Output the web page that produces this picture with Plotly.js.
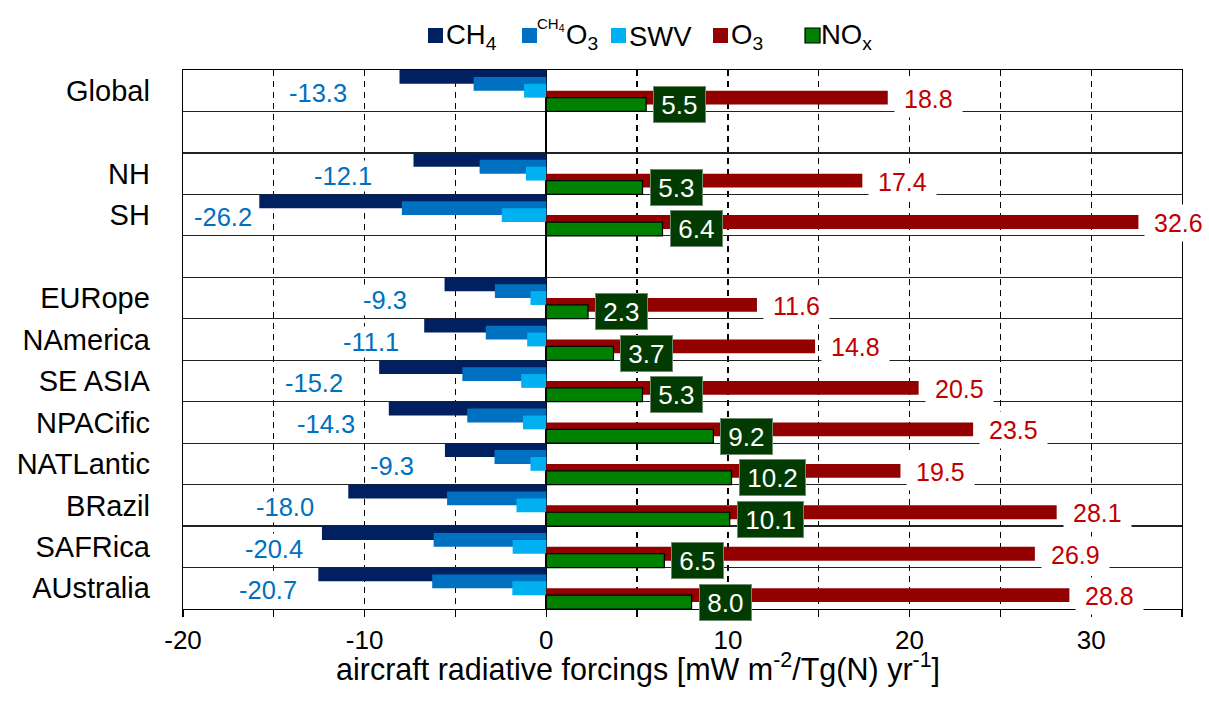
<!DOCTYPE html>
<html>
<head>
<meta charset="utf-8">
<script src="https://cdn.plot.ly/plotly-3.0.1.min.js"></script>
<style>
  html, body { margin: 0; padding: 0; background: #fff; }
  #chart { width: 1209px; height: 705px; }
</style>
</head>
<body>
<div id="chart"></div>
<script>
// Emission regions (blank entries leave a gap row)
const regions = ['Global', ' ', 'NH', 'SH', '  ', 'EURope', 'NAmerica', 'SE ASIA',
                 'NPACific', 'NATLantic', 'BRazil', 'SAFRica', 'AUstralia'];

// Radiative forcing per Tg(N)/yr, mW m-2
const ch4   = [-8.08, null, -7.31, -15.80, null, -5.60, -6.72, -9.20, -8.67, -5.58, -10.90, -12.35, -12.55];
const ch4o3 = [-4.00, null, -3.67,  -7.95, null, -2.83, -3.33, -4.62, -4.35, -2.85,  -5.46,  -6.20,  -6.28];
const swv   = [-1.22, null, -1.12,  -2.45, null, -0.87, -1.05, -1.38, -1.28, -0.87,  -1.64,  -1.85,  -1.87];
const o3    = [18.8, null, 17.4, 32.6, null, 11.6, 14.8, 20.5, 23.5, 19.5, 28.1, 26.9, 28.8];
const nox   = [5.5, null, 5.3, 6.4, null, 2.3, 3.7, 5.3, 9.2, 10.2, 10.1, 6.5, 8.0];

// Axis ticks
const xTickVals = [-20, -15, -10, -5, 0, 5, 10, 15, 20, 25, 30, 35];
const xTickText = ['-20', '', '-10', '', '0', '', '10', '', '20', '', '30', ''];

// Where the summed negative forcing is written on each row (x, data units)
const negLabelX = [-12.56, null, -11.2, -17.8, null, -8.9, -9.64, -12.8, -12.1, -8.5, -14.4, -15.0, -15.3];

const FONT = 'Liberation Sans, Arial, Helvetica, sans-serif';
const C_CH4 = '#002060', C_CH4O3 = '#0070C0', C_SWV = '#00B0F0', C_O3 = '#920000', C_NOX = '#008000';

// plot area in pixels
const M = { l: 183, r: 27, t: 70, b: 96 };
const W = 1209, H = 705;
const PW = W - M.l - M.r, PH = H - M.t - M.b;
const px2x = px => (px - M.l) / PW;
const px2y = py => (H - M.b - py) / PH;

const BAR_W = 1 / 3;
function barTrace(name, vals, color, offset, line) {
  return {
    type: 'bar', orientation: 'h', name: name,
    y: regions, x: vals,
    width: BAR_W, offset: offset,
    marker: { color: color, line: line || { width: 0 } },
    showlegend: false, hoverinfo: 'skip'
  };
}

const data = [
  barTrace('CH4', ch4, C_CH4, -0.5),
  barTrace('CH4O3', ch4o3, C_CH4O3, -1 / 3),
  barTrace('SWV', swv, C_SWV, -1 / 6),
  barTrace('O3', o3, C_O3, 0),
  barTrace('NOx', nox, C_NOX, 1 / 6, { color: '#000', width: 1.2 })
];

const annotations = [];
const shapes = [];
const pad = '\u2009';

regions.forEach((r, i) => {
  if (o3[i] === null) return;
  const negSum = ch4[i] + ch4o3[i] + swv[i];
  annotations.push({
    x: negLabelX[i], y: i, xref: 'x', yref: 'y',
    text: negSum.toFixed(1), showarrow: false,
    xanchor: 'center', yanchor: 'middle', yshift: -2,
    bgcolor: '#fff', borderpad: 1,
    font: { family: FONT, size: 25.5, color: '#0070C0' }
  });
  annotations.push({
    x: o3[i], y: i + 1 / 6, xref: 'x', yref: 'y',
    text: pad + o3[i].toFixed(1) + pad, showarrow: false,
    xanchor: 'left', yanchor: 'middle', xshift: 6, yshift: -1,
    bgcolor: '#fff', borderpad: 4,
    font: { family: FONT, size: 25, color: '#C00000' }
  });
  annotations.push({
    x: nox[i], y: i + 1 / 3, xref: 'x', yref: 'y',
    text: '\u00a0' + nox[i].toFixed(1) + '\u00a0', showarrow: false,
    xanchor: 'left', yanchor: 'middle', xshift: 7, height: 35,
    bgcolor: '#023b02', bordercolor: '#6f8c6f', borderwidth: 1, borderpad: 0,
    font: { family: FONT, size: 26, color: '#fff' }
  });
});

// Legend: colour squares followed by the species names
const legendItems = [
  { sq: 428, color: C_CH4 },
  { sq: 522, color: C_CH4O3 },
  { sq: 611, color: C_SWV },
  { sq: 713, color: C_O3 },
  { sq: 805, color: C_NOX, outline: true }
];
legendItems.forEach(it => {
  shapes.push({
    type: 'rect', xref: 'paper', yref: 'paper',
    x0: px2x(it.sq), x1: px2x(it.sq + 15), y0: px2y(43), y1: px2y(28),
    fillcolor: it.color,
    line: it.outline ? { color: '#000', width: 1.2 } : { width: 0 }
  });
});
const legendTexts = [
  { x: 445, y: 37, text: 'CH<sub>4</sub>', size: 27.5 },
  { x: 536, y: 25, text: 'CH<sub>4</sub>', size: 15 },
  { x: 565, y: 37, text: 'O<sub>3</sub>', size: 27.5 },
  { x: 628, y: 37, text: 'SWV', size: 27.5 },
  { x: 730, y: 37, text: 'O<sub>3</sub>', size: 27.5 },
  { x: 820, y: 37, text: 'NO<sub>x</sub>', size: 27.5 }
];
legendTexts.forEach(t => {
  annotations.push({
    x: px2x(t.x), y: px2y(t.y), xref: 'paper', yref: 'paper',
    text: t.text, showarrow: false, xanchor: 'left', yanchor: 'middle',
    borderpad: 0, font: { family: FONT, size: t.size, color: '#000' }
  });
});

// x-axis title
annotations.push({
  x: px2x(638), y: px2y(667), xref: 'paper', yref: 'paper',
  text: 'aircraft radiative forcings [mW m<sup>-2</sup>/Tg(N) yr<sup>-1</sup>]',
  showarrow: false, xanchor: 'center', yanchor: 'middle', borderpad: 0,
  font: { family: FONT, size: 30.5, color: '#000' }
});

const layout = {
  width: W, height: H,
  margin: M,
  paper_bgcolor: '#fff', plot_bgcolor: '#fff',
  barmode: 'overlay',
  font: { family: FONT, color: '#000' },
  showlegend: false,
  xaxis: {
    range: [-20, 35],
    tickmode: 'array', tickvals: xTickVals, ticktext: xTickText,
    ticks: 'outside', ticklen: 7, tickwidth: 1.2, tickcolor: '#000',
    showgrid: true, gridcolor: '#000', gridwidth: 1.2, griddash: '6px,5px',
    zeroline: true, zerolinecolor: '#000', zerolinewidth: 1.6,
    showline: true, linecolor: '#000', linewidth: 1.3, mirror: true,
    tickfont: { family: FONT, size: 26, color: '#000' },
    fixedrange: true
  },
  yaxis: {
    type: 'category', categoryorder: 'array', categoryarray: regions,
    range: [12.5, -0.5],
    tickson: 'boundaries', ticks: '',
    showgrid: true, gridcolor: '#222', gridwidth: 1.2,
    showline: true, linecolor: '#000', linewidth: 1.3, mirror: true,
    tickfont: { family: FONT, size: 29, color: '#000' },
    ticklabelstandoff: 26,
    fixedrange: true
  },
  annotations: annotations,
  shapes: shapes
};

Plotly.newPlot('chart', data, layout, { staticPlot: true, displayModeBar: false });
</script>
</body>
</html>
